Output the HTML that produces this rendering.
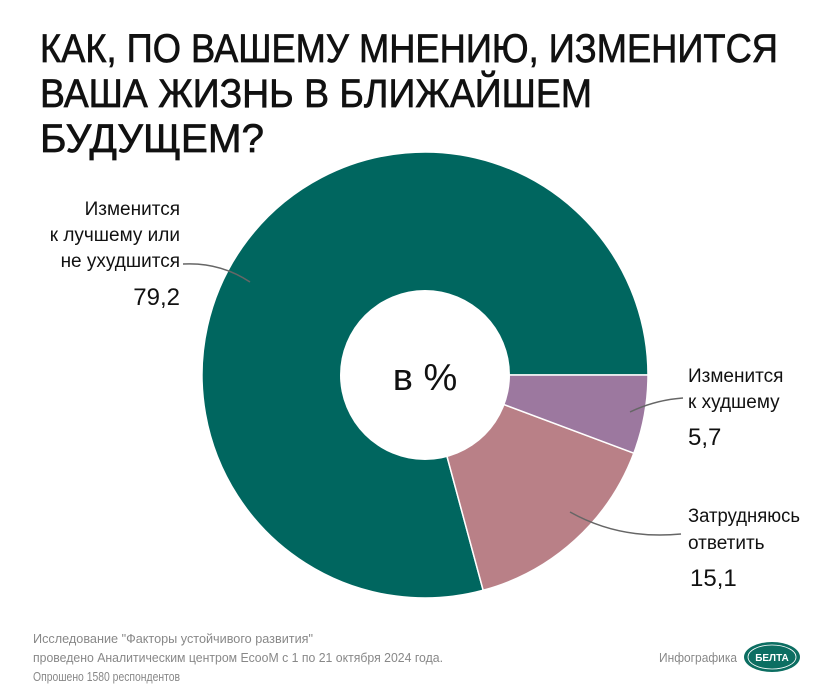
<!DOCTYPE html>
<html><head><meta charset="utf-8"><style>
body{margin:0;background:#fff;}
svg{display:block;font-family:"Liberation Sans",sans-serif;}
</style></head><body>
<svg width="840" height="698" viewBox="0 0 840 698">
<g font-family="'Liberation Sans Narrow','Liberation Sans',sans-serif" font-size="40" fill="#111" stroke="#111" stroke-width="0.7">
<text x="40" y="62" textLength="738" lengthAdjust="spacingAndGlyphs">КАК, ПО ВАШЕМУ МНЕНИЮ, ИЗМЕНИТСЯ</text>
<text x="40" y="107" textLength="552" lengthAdjust="spacingAndGlyphs">ВАША ЖИЗНЬ В БЛИЖАЙШЕМ</text>
<text x="40" y="152" textLength="224" lengthAdjust="spacingAndGlyphs">БУДУЩЕМ?</text>
</g>
<g id="pie"></g>
<text x="425" y="390" text-anchor="middle" font-size="38" fill="#111">в %</text>
<g fill="none" stroke="#666" stroke-width="1.5">
<path d="M183 264 Q220 262 250 282"/>
<path d="M683 398 Q655 400 630 412"/>
<path d="M681 534 Q620 540 570 512"/>
</g>
<g font-size="19" fill="#111" text-anchor="end">
<text x="180" y="215">Изменится</text>
<text x="180" y="241">к лучшему или</text>
<text x="180" y="267">не ухудшится</text>
<text x="180" y="305" font-size="24">79,2</text>
</g>
<g font-size="19" fill="#111">
<text x="688" y="382">Изменится</text>
<text x="688" y="408">к худшему</text>
<text x="688" y="445" font-size="24">5,7</text>
</g>
<g font-size="19" fill="#111">
<text x="688" y="522" textLength="112" lengthAdjust="spacingAndGlyphs">Затрудняюсь</text>
<text x="688" y="549">ответить</text>
<text x="690" y="586" font-size="24">15,1</text>
</g>
<g font-family="'Liberation Sans Narrow','Liberation Sans',sans-serif" font-size="12.5" fill="#888">
<text x="33" y="643" textLength="280" lengthAdjust="spacingAndGlyphs">Исследование "Факторы устойчивого развития"</text>
<text x="33" y="662" textLength="410" lengthAdjust="spacingAndGlyphs">проведено Аналитическим центром EcooM с 1 по 21 октября 2024 года.</text>
<text x="33" y="681" textLength="147" lengthAdjust="spacingAndGlyphs">Опрошено 1580 респондентов</text>
</g>
<text x="659" y="662" font-family="'Liberation Sans Narrow','Liberation Sans',sans-serif" font-size="13" fill="#888" textLength="78" lengthAdjust="spacingAndGlyphs">Инфографика</text>
<g>
<ellipse cx="772" cy="657" rx="28" ry="15" fill="#0c6e62"/>
<ellipse cx="772" cy="657" rx="24" ry="12" fill="none" stroke="#fff" stroke-width="0.8"/>
<text x="772" y="661" text-anchor="middle" font-size="10" font-weight="bold" fill="#fff">БЕЛТА</text>
</g>
</svg>
<script>
const categories=["Изменится к лучшему или не ухудшится","Затрудняюсь ответить","Изменится к худшему"];
const values=[79.2,15.1,5.7];
const colors=["#00665f","#b98087","#9c789f"];
const cx=425,cy=375,R=223,r0=85;
const g=document.getElementById('pie');
const total=values.reduce((a,b)=>a+b,0);
let a=0;
function pt(rad,deg){const t=deg*Math.PI/180;return [cx+rad*Math.cos(t),cy-rad*Math.sin(t)];}
values.forEach((v,i)=>{
  const sweep=v/total*360;const a1=a+sweep;
  const [x0,y0]=pt(R,a),[x1,y1]=pt(R,a1);
  const large=sweep>180?1:0;
  const p=document.createElementNS('http://www.w3.org/2000/svg','path');
  p.setAttribute('d',`M${cx} ${cy} L${x0} ${y0} A${R} ${R} 0 ${large} 0 ${x1} ${y1} Z`);
  p.setAttribute('fill',colors[i]);
  p.setAttribute('stroke','#fff');
  p.setAttribute('stroke-width','1.5');
  
  
  g.appendChild(p);
  a=a1;
});
const c=document.createElementNS('http://www.w3.org/2000/svg','circle');
c.setAttribute('cx',cx);c.setAttribute('cy',cy);c.setAttribute('r',r0);c.setAttribute('fill','#fff');


g.appendChild(c);
</script>
</body></html>
